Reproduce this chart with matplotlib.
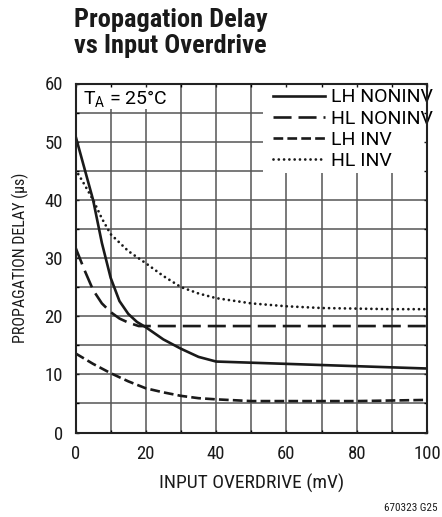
import matplotlib
matplotlib.use("Agg")
import matplotlib.pyplot as plt
from matplotlib import font_manager as fm
from matplotlib.patches import Rectangle
import numpy as np

available = set(f.name for f in fm.fontManager.ttflist)
candidates = ['Roboto Condensed', 'Liberation Sans Narrow', 'Arial Narrow', 'Nimbus Sans Narrow',
              'Archivo Narrow', 'PT Sans Narrow', 'Fira Sans Condensed',
              'IBM Plex Sans Condensed', 'Roboto', 'Liberation Sans']
main_font = next((c for c in candidates if c in available), 'DejaVu Sans')
wide_font = 'Roboto' if 'Roboto' in available else main_font
plt.rcParams['font.family'] = [main_font, 'DejaVu Sans']
plt.rcParams['mathtext.fontset'] = 'custom'
plt.rcParams['mathtext.rm'] = wide_font
plt.rcParams['lines.scale_dashes'] = False

# data
lh_noninv_x = [0, 2.5, 5, 7.5, 10, 12.5, 15, 17.5, 20, 25, 30, 35, 40, 50, 60, 70, 80, 90, 100]
lh_noninv_y = [51.0, 45.5, 40.0, 32.6, 26.6, 22.6, 20.4, 19.0, 18.1, 16.0, 14.4, 13.0, 12.2, 12.0, 11.8, 11.6, 11.4, 11.2, 11.0]
hl_noninv_x = [0, 2.5, 5, 7.5, 10, 12.5, 15, 18, 100]
hl_noninv_y = [31.8, 28.0, 24.5, 22.2, 20.7, 19.6, 18.9, 18.3, 18.3]
lh_inv_x = [0, 5, 10, 15, 20, 25, 30, 35, 40, 50, 60, 70, 80, 90, 100]
lh_inv_y = [13.6, 11.8, 10.2, 8.8, 7.6, 6.9, 6.3, 5.9, 5.7, 5.4, 5.4, 5.4, 5.4, 5.5, 5.6]
hl_inv_x = [0, 2, 5, 7.5, 10, 15, 20, 25, 30, 35, 40, 50, 60, 70, 80, 90, 100]
hl_inv_y = [45.2, 43.2, 40.0, 36.8, 34.1, 31.2, 29.1, 26.9, 25.0, 23.9, 23.1, 22.2, 21.7, 21.4, 21.3, 21.2, 21.2]

labels = ['LH NONINV', 'HL NONINV', 'LH INV', 'HL INV']
x_ticks = [0, 20, 40, 60, 80, 100]
y_ticks = [0, 10, 20, 30, 40, 50, 60]
x_grid = np.arange(0, 101, 10)
y_grid = np.arange(0, 61, 5)

fig = plt.figure(figsize=(4.42, 5.17), dpi=100)
L, R, T, B = 75.5, 427, 83.5, 432.5
W, H = 442, 517
ax = fig.add_axes([L / W, 1 - B / H, (R - L) / W, (B - T) / H])
ax.set_xlim(0, 100)
ax.set_ylim(0, 60)

def axfx(px):
    return (px - L) / (R - L)

def axfy(py):
    return (B - py) / (B - T)

gc = '#555555'
for xv in x_grid:
    ax.axvline(xv, color=gc, lw=1.1, zorder=1)
for yv in y_grid:
    ax.axhline(yv, color=gc, lw=1.1, zorder=1)

# white boxes for legend and annotation
ax.add_patch(Rectangle((axfx(263), axfy(173)), 1 - axfx(263), 1 - axfy(173),
                       transform=ax.transAxes, facecolor='white', edgecolor='none', zorder=1.8))
ax.add_patch(Rectangle((0, axfy(109)), axfx(161), 1 - axfy(109),
                       transform=ax.transAxes, facecolor='white', edgecolor='none', zorder=1.8))

lc = '#1a1a1a'
lw = 1.9
ax.plot(lh_noninv_x, lh_noninv_y, color=lc, lw=lw, zorder=3, label=labels[0], solid_joinstyle='round')
ax.plot(hl_noninv_x, hl_noninv_y, color=lc, lw=lw, zorder=3, label=labels[1], dashes=(13, 5))
ax.plot(lh_inv_x, lh_inv_y, color=lc, lw=lw, zorder=3, label=labels[2], dashes=(7, 3))
ax.plot(hl_inv_x, hl_inv_y, color=lc, lw=2.0, zorder=3, label=labels[3], dashes=(0.01, 3.8),
        dash_capstyle='round')

leg = ax.legend(loc='upper left', bbox_to_anchor=(axfx(273), axfy(88.5)), borderaxespad=0.0,
                frameon=False, prop={'family': wide_font, 'size': 14},
                handlelength=2.7, handletextpad=0.26, labelspacing=0.16, borderpad=0.0)
leg.set_zorder(2.6)

ax.text(axfx(83), axfy(105), 'T$_\\mathregular{A}$ = 25°C', transform=ax.transAxes,
        family=wide_font, fontsize=14, va='baseline', ha='left', zorder=2)

ax.set_axisbelow(False)
ax.set_xticks(x_ticks)
ax.set_yticks(y_ticks)
ax.tick_params(direction='in', length=2.2, width=1, top=True, right=True,
               labelsize=13.5, colors='#1a1a1a', pad=9)
ax.set_yticks(y_grid, minor=True)
ax.set_xticks(x_grid, minor=True)
ax.tick_params(which='minor', direction='in', length=2.2, width=1, top=True, right=True)
for s in ax.spines.values():
    s.set_linewidth(1.5)
    s.set_color('#222222')
    s.set_zorder(4)

ax.set_xlabel('INPUT OVERDRIVE (mV)', fontsize=14, labelpad=8, color='#1a1a1a')
ax.set_ylabel('PROPAGATION DELAY (µs)', fontsize=11.5, labelpad=11, color='#1a1a1a')

fig.text(74 / W, 1 - 8 / H, 'Propagation Delay\nvs Input Overdrive', fontsize=19,
         fontweight='bold', va='top', ha='left', linespacing=1.08, color='#1a1a1a')
fig.text(437 / W, 1 - 508 / H, '670323 G25', fontsize=8, ha='right', va='center', color='#1a1a1a')

fig.savefig('out.png', dpi=100)
